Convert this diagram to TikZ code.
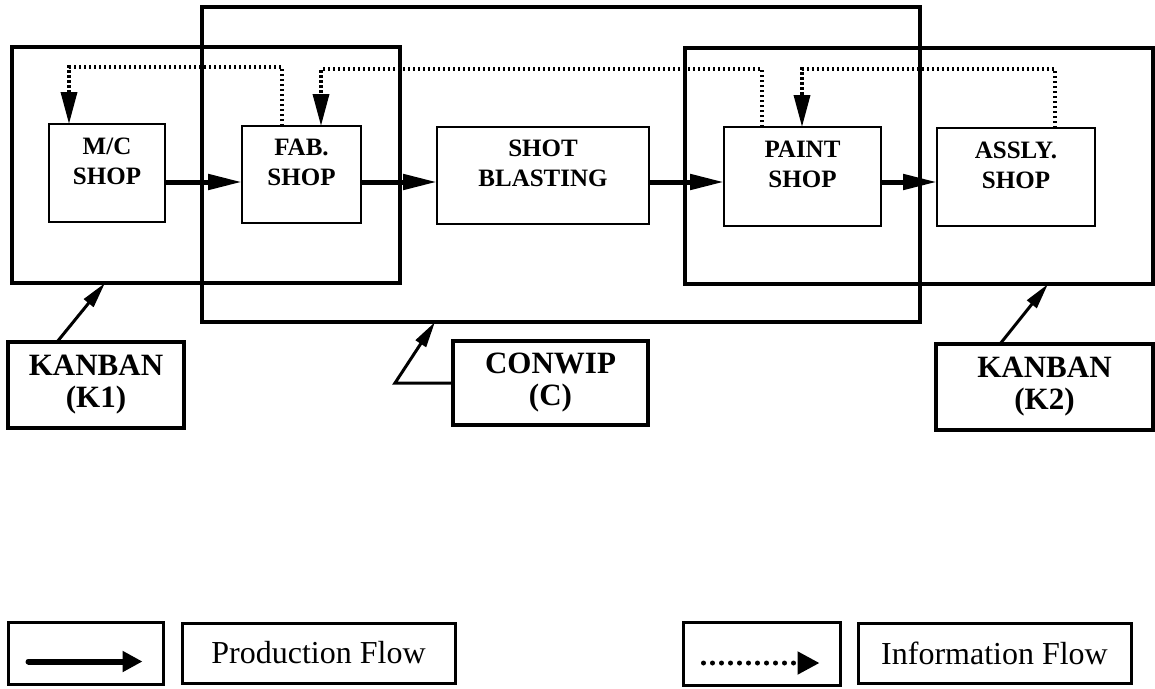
\documentclass[tikz,border=0pt]{standalone}
\usepackage{fontspec}
\setmainfont{Liberation Serif}
\usetikzlibrary{arrows.meta}
\begin{document}
\begin{tikzpicture}[x=1pt,y=-1pt,
  loop/.style={draw, line width=4pt, inner sep=0pt, outer sep=0pt},
  shop/.style={draw, line width=2.5pt, inner sep=0pt, outer sep=0pt},
  shoplbl/.style={align=center, yshift=12pt, font=\fontsize{25}{30}\selectfont\bfseries},
  tagbox/.style={draw, line width=3.5pt, inner sep=0pt, outer sep=0pt, align=center,
                 font=\fontsize{31}{32}\selectfont\bfseries},
  keybox/.style={draw, line width=3pt, inner sep=0pt, outer sep=0pt,
                 font=\fontsize{32}{36}\selectfont},
  prod/.style={line width=5pt, -{Triangle[length=34pt,width=15pt]}},
  info/.style={line width=3.5pt, dash pattern=on 2.5pt off 2.5pt, -{Triangle[length=32pt,width=16pt]}},
  tag/.style={line width=3pt, -{Triangle[length=26pt,width=12pt]}},
  keyprod/.style={line width=6pt, line cap=round, -{Triangle[length=20pt,width=20pt]}},
  keyinfo/.style={line width=5pt, line cap=round, dash pattern=on 0pt off 9pt,
                  -{Triangle[length=22pt,width=22pt]}}]
  \useasboundingbox (0,0) rectangle (1155,688);
  % control loops
  \node[loop, minimum width=718, minimum height=315] (loopC) at (561,164.5) {};
  \node[loop, minimum width=388, minimum height=236] (loopA) at (206,165) {};
  \node[loop, minimum width=468, minimum height=236] (loopB) at (919,166) {};
  % shops
  \node[shop, minimum width=116, minimum height=98,
        label={[shoplbl]center:M/C\\SHOP}] (mc) at (107,173) {};
  \node[shop, minimum width=119, minimum height=97,
        label={[shoplbl]center:FAB.\\SHOP}] (fab) at (301.5,174.5) {};
  \node[shop, minimum width=212, minimum height=97,
        label={[shoplbl]center:SHOT\\BLASTING}] (shot) at (543,175.5) {};
  \node[shop, minimum width=157, minimum height=99,
        label={[shoplbl]center:PAINT\\SHOP}] (paint) at (802.5,176.5) {};
  \node[shop, minimum width=158, minimum height=98,
        label={[shoplbl]center:ASSLY.\\SHOP}] (assly) at (1016,177) {};
  % production flow
  \coordinate (flow) at (0,182);
  \draw[prod] (mc.east |- flow) -- (fab.west |- flow);
  \draw[prod] (fab.east |- flow) -- (shot.west |- flow);
  \draw[prod] (shot.east |- flow) -- (paint.west |- flow);
  \draw[prod] (paint.east |- flow) -- (assly.west |- flow);
  % information flow
  \draw[info] (fab.north -| 282,0) -- (282,67) -| (mc.north -| 69,0);
  \draw[info] (paint.north -| 762,0) -- (762,69) -| (fab.north -| 321,0);
  \draw[info] (assly.north -| 1055,0) -- (1055,69) -| (paint.north -| 802,0);
  % tags
  \node[tagbox, minimum width=176, minimum height=86] (k1) at (96,385) {KANBAN\\(K1)};
  \node[tagbox, minimum width=195, minimum height=84] (conwip) at (550.5,383) {CONWIP\\(C)};
  \node[tagbox, minimum width=217, minimum height=86] (k2) at (1044.5,387) {KANBAN\\(K2)};
  \draw[tag] (k1.north -| 57,0) -- (loopA.south -| 105,0);
  \draw[tag] (conwip.west) -- (conwip.west -| 395,0) -- (loopC.south -| 435,0);
  \draw[tag] (k2.north -| 1000,0) -- (loopB.south -| 1048,0);
  % legend
  \node[keybox, minimum width=155, minimum height=62] (keyA) at (85.5,653.5) {};
  \node[keybox, minimum width=273, minimum height=60] (keyB) at (318.5,653) {Production Flow};
  \node[keybox, minimum width=157, minimum height=63] (keyC) at (761.5,654) {};
  \node[keybox, minimum width=273, minimum height=60] (keyD) at (994.5,653) {Information Flow};
  \draw[keyprod] ([shift={(-57,8)}]keyA.center) -- ([shift={(57,8)}]keyA.center);
  \draw[keyinfo] ([shift={(-58,9)}]keyC.center) -- ([shift={(58,9)}]keyC.center);
\end{tikzpicture}
\end{document}
